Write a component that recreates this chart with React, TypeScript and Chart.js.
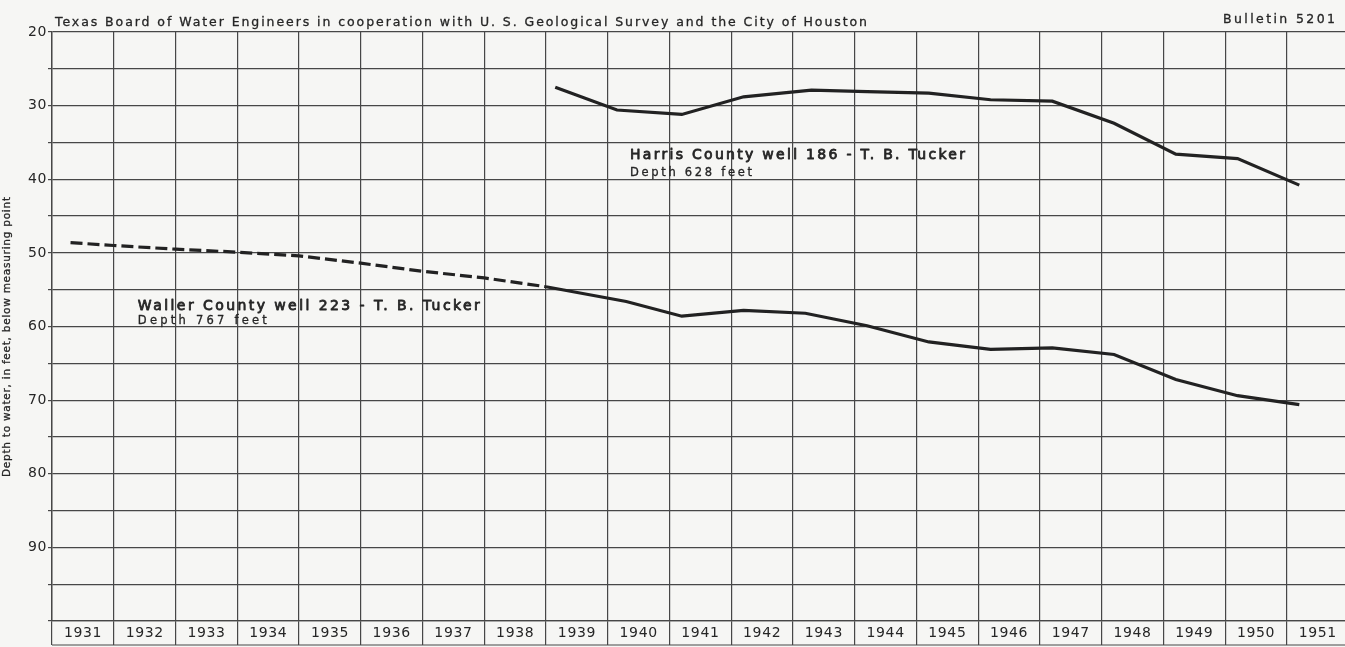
import React, { useEffect, useRef } from 'react';
import { Chart, registerables } from 'chart.js';

Chart.register(...registerables);

// ---- data ----
const years = [1931, 1932, 1933, 1934, 1935, 1936, 1937, 1938, 1939, 1940, 1941, 1942, 1943, 1944, 1945, 1946, 1947, 1948, 1949, 1950, 1951];
const yearLabels = ['1931', '1932', '1933', '1934', '1935', '1936', '1937', '1938', '1939', '1940', '1941', '1942', '1943', '1944', '1945', '1946', '1947', '1948', '1949', '1950', '1951'];
const depthGrid = [20, 25, 30, 35, 40, 45, 50, 55, 60, 65, 70, 75, 80, 85, 90, 95, 100];
const depthLabels = ['20', '30', '40', '50', '60', '70', '80', '90'];

const harrisYears = [1939.15, 1940.15, 1941.2, 1942.2, 1943.3, 1944.2, 1945.2, 1946.2, 1947.2, 1948.2, 1949.2, 1950.2, 1951.2];
const harrisDepth = [27.5, 30.6, 31.2, 28.8, 27.9, 28.1, 28.3, 29.2, 29.4, 32.4, 36.6, 37.2, 40.8];

const wallerYears = [1931.3, 1932, 1933, 1934, 1935, 1936, 1937, 1938, 1939, 1940.3, 1941.2, 1942.2, 1943.2, 1944.2, 1945.2, 1946.2, 1947.2, 1948.2, 1949.2, 1950.2, 1951.2];
const wallerDepth = [48.6, 49.0, 49.5, 49.9, 50.4, 51.4, 52.5, 53.4, 54.6, 56.6, 58.6, 57.8, 58.2, 59.9, 62.1, 63.1, 62.9, 63.8, 67.2, 69.4, 70.6];
const estimatedUntil = 1939;

const headerText = 'Texas Board of Water Engineers in cooperation with U. S. Geological Survey and the City of Houston';
const bulletinText = 'Bulletin 5201';
const yTitle = 'Depth to water, in feet, below measuring point';
const harrisLabel = ['Harris County well 186 - T. B. Tucker', 'Depth 628 feet'];
const wallerLabel = ['Waller County well 223 - T. B. Tucker', 'Depth 767 feet'];

const FONT = '"DejaVu Sans", sans-serif';
const INK = '#262626';
const GRID = '#474747';
const PAPER = '#f6f6f4';

function drawFitted(ctx: CanvasRenderingContext2D, text: string, x: number, y: number, width: number, font: string, weight = 0) {
  ctx.save();
  ctx.font = font;
  (ctx as any).letterSpacing = '0px';
  const w = ctx.measureText(text).width;
  const sp = text.length > 1 ? (width - w) / (text.length - 1) : 0;
  (ctx as any).letterSpacing = sp + 'px';
  ctx.textAlign = 'left';
  ctx.textBaseline = 'alphabetic';
  ctx.fillStyle = INK;
  ctx.fillText(text, x, y);
  if (weight > 0) {
    ctx.strokeStyle = INK;
    ctx.lineWidth = weight;
    ctx.lineJoin = 'round';
    ctx.strokeText(text, x, y);
  }
  ctx.restore();
}

const paperPlugin = {
  id: 'paper',
  beforeDraw(chart: any) {
    const ctx = chart.ctx as CanvasRenderingContext2D;
    ctx.save();
    ctx.fillStyle = PAPER;
    ctx.fillRect(0, 0, chart.width, chart.height);
    ctx.restore();
    (ctx as any).letterSpacing = '0.6px';
  },
  afterDraw(chart: any) {
    const ctx = chart.ctx as CanvasRenderingContext2D;
    const xs = chart.scales.x;
    const ys = chart.scales.y;
    const area = chart.chartArea;
    // bottom rule of the year-label row
    ctx.save();
    ctx.strokeStyle = GRID;
    ctx.lineWidth = 1.2;
    ctx.beginPath();
    ctx.moveTo(area.left, area.bottom + 24);
    ctx.lineTo(area.right, area.bottom + 24);
    ctx.stroke();
    ctx.restore();

    drawFitted(ctx, headerText, 55, 26, 812, `12.5px ${FONT}`, 0.3);
    drawFitted(ctx, bulletinText, 1223, 23, 112, `12.5px ${FONT}`, 0.3);

    // y axis title (rotated)
    ctx.save();
    ctx.translate(10, 337);
    ctx.rotate(-Math.PI / 2);
    drawFitted(ctx, yTitle, -140, 0, 280, `10.5px ${FONT}`, 0.3);
    ctx.restore();

    // series labels
    const hx = xs.getPixelForValue(1940.36);
    drawFitted(ctx, harrisLabel[0], hx, ys.getPixelForValue(37.3), 335, `14px ${FONT}`, 0.8);
    drawFitted(ctx, harrisLabel[1], hx, ys.getPixelForValue(39.5), 122, `11.5px ${FONT}`, 0.3);
    const wx = xs.getPixelForValue(1932.39);
    drawFitted(ctx, wallerLabel[0], wx, ys.getPixelForValue(57.7), 342, `14px ${FONT}`, 0.8);
    drawFitted(ctx, wallerLabel[1], wx, ys.getPixelForValue(59.6), 129, `11.5px ${FONT}`, 0.3);
  },
};

export default function App() {
  const ref = useRef<HTMLCanvasElement | null>(null);

  useEffect(() => {
    document.body.style.margin = '0';
    document.body.style.background = PAPER;
    const canvas = ref.current;
    if (!canvas) return;

    const chart = new Chart(canvas, {
      type: 'line',
      data: {
        datasets: [
          {
            label: 'Harris County well 186',
            data: harrisYears.map((x, i) => ({ x, y: harrisDepth[i] })),
            borderColor: '#222222',
            borderWidth: 3.2,
            pointRadius: 0,
            tension: 0,
            fill: false,
          },
          {
            label: 'Waller County well 223',
            data: wallerYears.map((x, i) => ({ x, y: wallerDepth[i] })),
            borderColor: '#222222',
            borderWidth: 3.2,
            pointRadius: 0,
            tension: 0,
            fill: false,
            borderDash: [],
            segment: {
              borderDash: (c: any) => (c.p1.parsed.x <= estimatedUntil ? [12, 5] : []),
            },
          },
        ],
      },
      options: {
        animation: false,
        responsive: false,
        devicePixelRatio: 1,
        layout: { padding: { top: 32, left: 0, right: 0, bottom: 0 } },
        plugins: {
          legend: { display: false },
          tooltip: { enabled: false },
          title: { display: false },
        },
        scales: {
          x: {
            type: 'linear',
            position: 'bottom',
            min: 1931,
            max: 1951.94,
            afterBuildTicks: (s: any) => {
              s.ticks = years.map((v) => ({ value: v }));
            },
            afterFit: (s: any) => {
              s.height = 26;
            },
            ticks: {
              callback: (_v: any, i: number) => yearLabels[i],
              labelOffset: 30.9,
              padding: -20.5,
              autoSkip: false,
              maxRotation: 0,
              minRotation: 0,
              color: INK,
              font: { family: FONT, size: 14 },
            },
            grid: { color: GRID, lineWidth: 1.2, tickLength: 24, drawTicks: true },
            border: { display: true, color: GRID, width: 1.2 },
          },
          y: {
            type: 'linear',
            position: 'left',
            reverse: true,
            min: 20,
            max: 100,
            afterBuildTicks: (s: any) => {
              s.ticks = depthGrid.map((v) => ({ value: v }));
            },
            afterFit: (s: any) => {
              s.width = 52;
            },
            ticks: {
              callback: (v: any) => {
                const t = String(v);
                return depthLabels.includes(t) ? t : '';
              },
              padding: 1,
              autoSkip: false,
              color: INK,
              font: { family: FONT, size: 14 },
            },
            grid: { color: GRID, lineWidth: 1.2, tickLength: 4, drawTicks: true },
            border: { display: true, color: GRID, width: 1.4 },
          },
        },
      },
      plugins: [paperPlugin],
    } as any);

    return () => chart.destroy();
  }, []);

  return (
    <div style={{ width: 1345, height: 647, background: PAPER }}>
      <canvas ref={ref} width={1345} height={647} style={{ display: 'block' }} />
    </div>
  );
}
